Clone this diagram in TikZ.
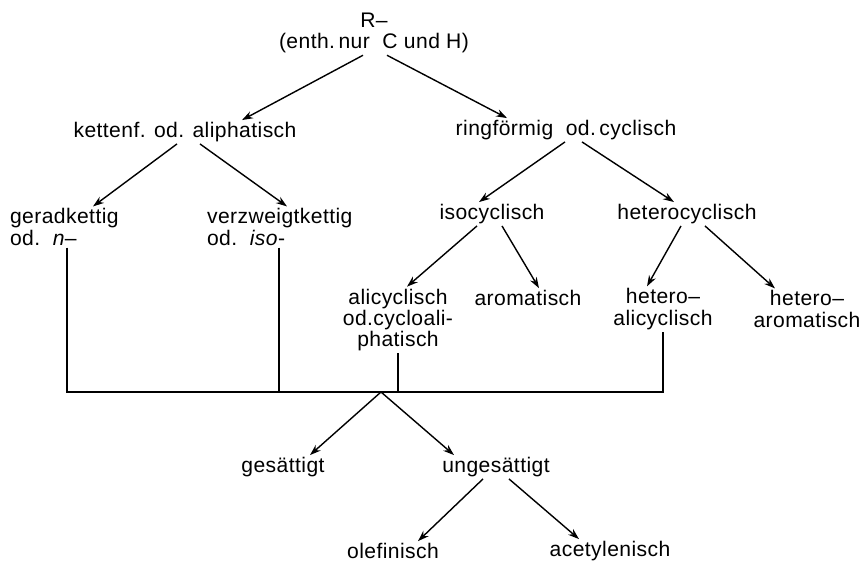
\documentclass[tikz,border=0pt]{standalone}
\usepackage{fontspec}
\setmainfont{Liberation Sans}[LetterSpace=2]
\usetikzlibrary{positioning, calc, arrows.meta}

\begin{document}
\begin{tikzpicture}[
        x=1cm, y=1cm,
        term/.style={inner sep=1pt, align=center, font=\fontsize{12}{12.2}\selectfont},
        lterm/.style={term, align=left, anchor=west},
        arrow/.style={-{Stealth[length=2.2mm, width=1.5mm]}, line width=0.8pt},
        bus/.style={line width=0.8pt}
    ]
        \useasboundingbox (0,0) rectangle (17.28,-11.26);

        % Root
        \node[term] (R) at (7.48,-0.66) {R–\\(enth.\,nur~~C und H)};

        % First level
        \node[term] (KETTE) at (3.70,-2.64) {kettenf. od. aliphatisch};
        \node[term] (RING) at (11.32,-2.60) {ringförmig~~od.\,cyclisch};

        % Chain types
        \node[lterm] (GERAD) at (0.16,-4.54) {geradkettig\\od.~~\textit{n}–};
        \node[lterm] (VERZW) at (4.10,-4.54) {verzweigtkettig\\od.~~\textit{iso}-};

        % Ring types
        \node[term] (ISO) at (9.84,-4.28) {isocyclisch};
        \node[term] (HETCYC) at (13.74,-4.28) {heterocyclisch};
        \node[term] (ALICYC) at (7.96,-6.40) {alicyclisch\\od.cycloali-\\phatisch};
        \node[term] (AROM) at (10.56,-5.96) {aromatisch};
        \node[term] (HETALI) at (13.26,-6.18) {hetero–\\alicyclisch};
        \node[term] (HETAROM) at (16.14,-6.18) {hetero–\\aromatisch};

        % Saturation
        \coordinate (BUS) at (7.62,-7.84);
        \node[term] (GESATT) at (5.66,-9.34) {gesättigt};
        \node[term] (UNGES) at (9.92,-9.34) {ungesättigt};
        \node[term] (OLEF) at (7.86,-11.02) {olefinisch};
        \node[term] (ACET) at (12.20,-11.02) {acetylenisch};

        % Tree arrows
        \draw[arrow] ([xshift=-0.22cm]R.south) -- ([xshift=1.14cm]KETTE.north);
        \draw[arrow] ([xshift=0.26cm]R.south) -- ([xshift=-1.18cm]RING.north);
        \draw[arrow] ([xshift=-0.16cm]KETTE.south) -- ([xshift=1.70cm]GERAD.north west);
        \draw[arrow] ([xshift=0.30cm]KETTE.south) -- ([xshift=1.64cm]VERZW.north west);
        \draw[arrow] ([xshift=-0.02cm]RING.south) -- ([xshift=-0.26cm]ISO.north);
        \draw[arrow] ([xshift=0.32cm]RING.south) -- ([xshift=-0.26cm]HETCYC.north);
        \draw[arrow] ([xshift=-0.30cm]ISO.south) -- ([xshift=0.18cm]ALICYC.north);
        \draw[arrow] ([xshift=0.20cm]ISO.south) -- ([xshift=0.22cm]AROM.north);
        \draw[arrow] ([xshift=-0.12cm]HETCYC.south) -- ([xshift=-0.32cm]HETALI.north);
        \draw[arrow] ([xshift=0.36cm]HETCYC.south) -- ([xshift=-0.64cm]HETAROM.north);

        % Collecting line
        \draw[bus] ([xshift=1.18cm]GERAD.south west) |- (BUS) -| (HETALI.south);
        \draw[bus] ([xshift=1.48cm]VERZW.south west) -- ([xshift=1.48cm]VERZW.south west |- BUS);
        \draw[bus] (ALICYC.south) -- (ALICYC.south |- BUS);

        % Saturation arrows
        \draw[arrow] (BUS) -- ([xshift=0.54cm]GESATT.north);
        \draw[arrow] (BUS) -- ([xshift=-0.84cm]UNGES.north);
        \draw[arrow] ([xshift=-0.26cm]UNGES.south) -- ([xshift=0.50cm]OLEF.north);
        \draw[arrow] ([xshift=0.26cm]UNGES.south) -- ([xshift=-0.62cm]ACET.north);
    \end{tikzpicture}
\end{document}
